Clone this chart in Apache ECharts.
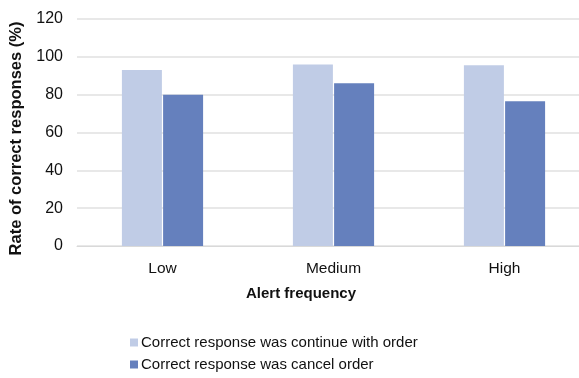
<!DOCTYPE html>
<html><head><meta charset="utf-8">
<script src="https://cdn.jsdelivr.net/npm/echarts@6/dist/echarts.min.js"></script>
<style>html,body{margin:0;padding:0;background:#fff}#c{width:579px;height:378px}</style>
</head><body><div id="c"></div>
<script>
const categories = ['Low', 'Medium', 'High'];
const continueOrder = [93, 96, 95.5];
const cancelOrder = [80, 86, 76.5];
const yTicks = [0, 20, 40, 60, 80, 100, 120];
const seriesNames = ['Correct response was continue with order', 'Correct response was cancel order'];

const chart = echarts.init(document.getElementById('c'), null, {renderer: 'canvas'});
const font = 'Liberation Sans, Arial, sans-serif';
chart.setOption({
  animation: false,
  textStyle: {fontFamily: font},
  title: {
    text: 'Alert frequency', left: 296, top: 281, textAlign: 'center',
    textStyle: {fontFamily: font, fontSize: 15, fontWeight: 'bold', color: '#111'}
  },
  grid: {left: 77, top: 19, width: 513, height: 227, outerBoundsMode: 'none', containLabel: false},
  legend: {
    orient: 'vertical', left: 125, top: 330, itemWidth: 8, itemHeight: 8, itemGap: 7,
    icon: 'rect',
    textStyle: {fontFamily: font, fontSize: 15, color: '#111', padding: [0, 0, 0, -2]},
    data: seriesNames
  },
  xAxis: {
    type: 'category', data: categories,
    axisLine: {show: true, lineStyle: {color: '#d9d9d9', width: 1}},
    axisTick: {show: false},
    axisLabel: {fontFamily: font, fontSize: 15.5, color: '#111', margin: 15}
  },
  yAxis: {
    type: 'value', min: yTicks[0], max: yTicks[yTicks.length - 1], interval: 20,
    name: 'Rate of correct responses (%)', nameLocation: 'middle', nameGap: 43,
    nameTextStyle: {fontFamily: font, fontSize: 16.5, fontWeight: 'bold', color: '#111',
      padding: [0, 12, 0, 0]},
    axisLine: {show: false}, axisTick: {show: false},
    axisLabel: {fontFamily: font, fontSize: 16, color: '#111', margin: 14, padding: [4, 0, 0, 0]},
    splitLine: {lineStyle: {color: '#e0e0e0', width: 1.5}}
  },
  series: [
    {name: seriesNames[0], type: 'bar', data: continueOrder, barWidth: 40, barGap: '3%',
     itemStyle: {color: '#c0cce6'}},
    {name: seriesNames[1], type: 'bar', data: cancelOrder, barWidth: 40,
     itemStyle: {color: '#6580bd'}}
  ]
});
</script></body></html>
